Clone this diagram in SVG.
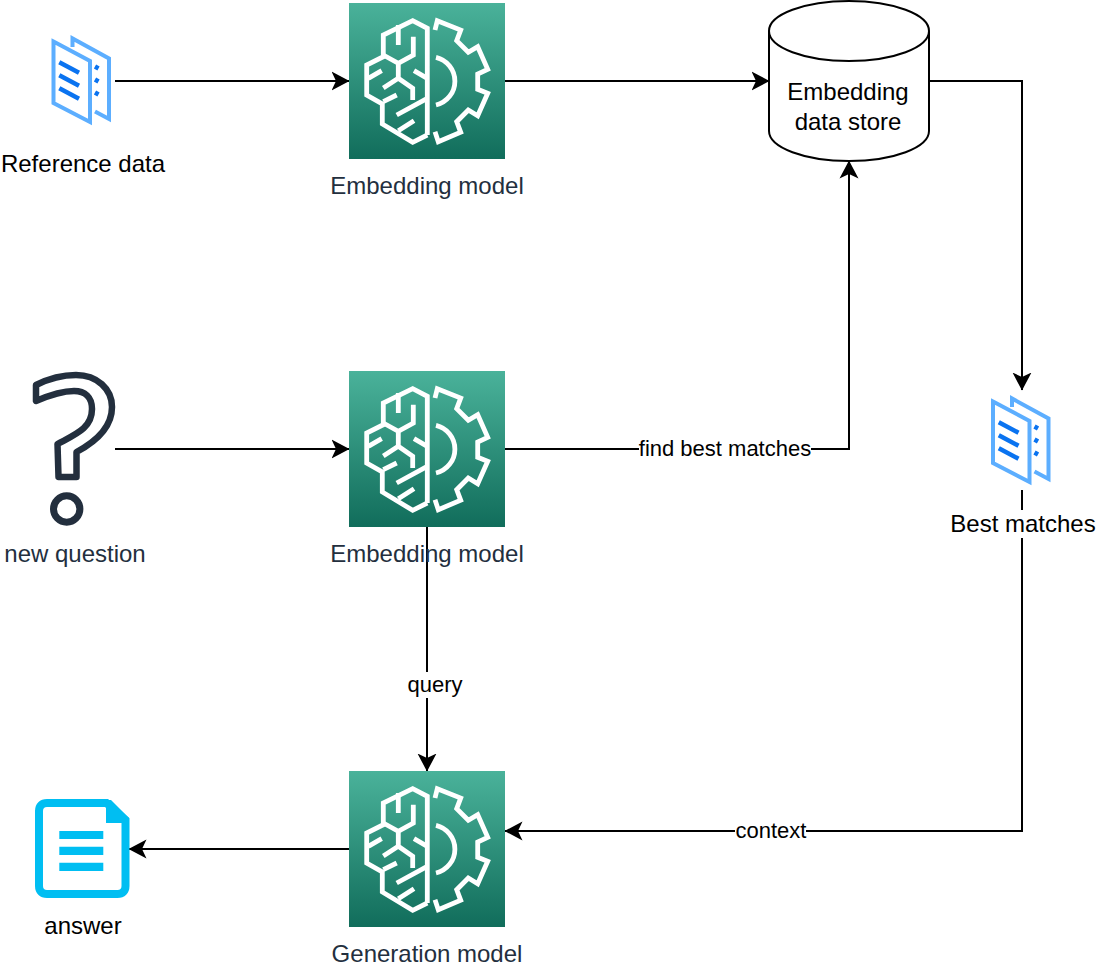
<svg xmlns="http://www.w3.org/2000/svg" width="1096" height="972" viewBox="0 0 1096 972">
<style>
text{font-family:"Liberation Sans",Arial,Helvetica,sans-serif;font-size:24px;text-anchor:middle;fill:#000}
text.a{fill:#232F3E}
text.e{font-size:22px}
.c{fill:none;stroke:#000;stroke-width:2}
.w{fill:none;stroke:#fff;stroke-width:4.800;stroke-linejoin:miter;stroke-linecap:butt}
.p{fill:none;stroke:#5CAEFF;stroke-width:4}
.l{fill:none;stroke:#0A73F0;stroke-width:4.500}
</style>
<defs>
<linearGradient id="g" x1="0" y1="1" x2="0" y2="0"><stop offset="0" stop-color="#116D5B"/><stop offset="1" stop-color="#4AB29A"/></linearGradient>
<marker id="ah" markerUnits="userSpaceOnUse" markerWidth="20" markerHeight="20" refX="17.500" refY="10" orient="auto"><path d="M0 0.500 L18 10 L0 19.500 L4.500 10Z" fill="#000"/></marker>
<g id="brain">
<rect width="156" height="156" fill="url(#g)"/>
<path class="w" d="M78.300 132V25.300L63.700 17.700 34.300 32V53.700L17.700 62V92L33.300 101V121L63.700 139.300 78.300 132"/>
<path class="w" d="M49.300 22V42M64.300 33.700V52L49.300 60.300 34.300 52M49.300 60.300V75.300L34.300 85M49.300 75.300L63.700 85.300V97M19.300 75.300L32.700 67.700M65 67.700L78.300 75.300M34.300 98.700L47.700 92M47.700 112L78.300 95.300M49.300 127.700L65 117.700"/>
<path class="w" d="M86 27L88.300 17.700 111.700 27 107.700 37.700 119.300 49.300 128.700 43.700 138.700 66.300 128.700 71V86.300L138.700 90.300 128.700 112.700 119.300 107 107.700 118.700 111.700 129.300 89.300 138.700 86 128.700"/>
<path class="w" d="M87 54.300A24.500 24.500 0 0 1 87 102"/>
</g>
<g id="doc">
<path class="p" d="M53.500 41.500L90 61V122L53.500 103Z"/>
<path class="p" d="M72.500 47V38.500L109 58.500V119L95 111.500"/>
<path class="l" d="M59.300 62.300L79 72.700M59.300 75.300L79 85.700M59.300 88.300L79 98.700M95 66.500L98.500 68.500M95 79.500L98.500 81.500M95 92.500L98.500 94.500"/>
</g>
</defs>
<g id="connectors">
<path class="c" marker-end="url(#ah)" d="M115 81H349"/>
<path class="c" marker-end="url(#ah)" d="M505 81H769"/>
<path class="c" marker-end="url(#ah)" d="M929 81H1022V390"/>
<path class="c" marker-end="url(#ah)" d="M115 449H349"/>
<path class="c" marker-end="url(#ah)" d="M505 449H849V161"/>
<path class="c" marker-end="url(#ah)" d="M427 527V771"/>
<path class="c" marker-end="url(#ah)" d="M1022 490V831H505"/>
<path class="c" marker-end="url(#ah)" d="M349 849H129"/>
<rect x="639" y="436" width="172" height="26" fill="#fff"/>
<text class="e" x="725" y="456">find best matches</text>
<rect x="407" y="672" width="56" height="26" fill="#fff"/>
<text class="e" x="435" y="692">query</text>
<rect x="735" y="820" width="71" height="24" fill="#fff"/>
<text class="e" x="771" y="838">context</text>
</g>
<g id="reference-data"><use href="#doc"/><text x="83" y="172">Reference data</text></g>
<g id="embedding-model-1"><use href="#brain" x="349" y="3"/><text class="a" x="427" y="194">Embedding model</text></g>
<g id="data-store">
<path d="M769 31A80 30 0 0 1 929 31V131A80 30 0 0 1 769 131Z" fill="#fff" stroke="#000" stroke-width="2"/>
<path d="M769 31A80 30 0 0 0 929 31" fill="none" stroke="#000" stroke-width="2"/>
<text x="848" y="100">Embedding</text><text x="848" y="130">data store</text>
</g>
<g id="new-question">
<path d="M36 385C50 378 64 375 76 375C97 375 112 389 112 407C112 427 97 441 76.500 452L76.500 477H58.500L57.500 444C76 434 92 428 92 409C92 397 85 391 74 391C62 391 50 395 36 401Z" fill="none" stroke="#232F3E" stroke-width="6.500" stroke-linejoin="round"/>
<circle cx="66.700" cy="509" r="13.200" fill="none" stroke="#232F3E" stroke-width="7"/>
<text class="a" x="75" y="562">new question</text>
</g>
<g id="embedding-model-2"><use href="#brain" x="349" y="371"/><text class="a" x="427" y="562">Embedding model</text></g>
<g id="best-matches"><use href="#doc" x="939.500" y="360"/><rect x="950" y="510" width="146" height="28" fill="#fff"/><text x="1023" y="532">Best matches</text></g>
<g id="generation-model"><use href="#brain" x="349" y="771"/><text class="a" x="427" y="962">Generation model</text></g>
<g id="answer">
<path d="M106.500 803H47C42 803 39 806 39 811V886C39 891 42 894 47 894H117.500C122.500 894 125.500 891 125.500 886V820Z" fill="none" stroke="#00BEF2" stroke-width="8"/>
<path d="M106 800H111L129 818V823H106Z" fill="#00BEF2"/>
<path d="M59.300 831H103.300V839H59.300ZM59.300 846.700H103.300V855H59.300ZM59.300 862.700H103.300V871H59.300Z" fill="#00BEF2"/>
<text x="83" y="934">answer</text>
</g>
</svg>
